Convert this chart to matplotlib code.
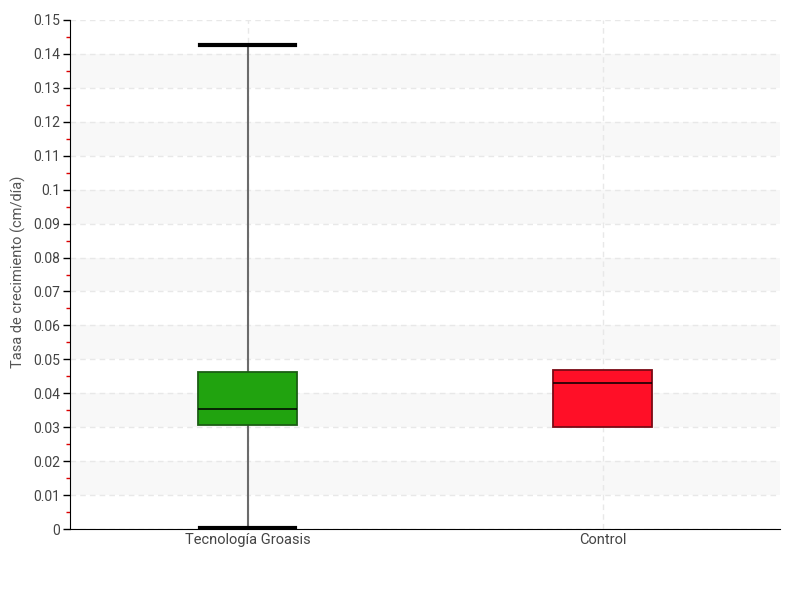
import matplotlib.pyplot as plt
from matplotlib.ticker import MultipleLocator, FuncFormatter

plt.rcParams['font.family'] = ['Roboto', 'DejaVu Sans']

# Data
groups = ["Tecnología Groasis", "Control"]
whisker_low = [0.0003, 0.0302]
q1 = [0.0307, 0.0302]
median = [0.0353, 0.0430]
q3 = [0.0462, 0.0470]
whisker_high = [0.1426, 0.0470]
fill_colors = ["#21a30f", "#ff0f27"]
edge_colors = ["#1b5e14", "#7a0a15"]

stats = []
for i, g in enumerate(groups):
    stats.append({"label": g, "whislo": whisker_low[i], "q1": q1[i], "med": median[i],
                  "q3": q3[i], "whishi": whisker_high[i], "fliers": []})

fig, ax = plt.subplots(figsize=(8, 6), dpi=100)
fig.subplots_adjust(left=0.0875, right=0.975, bottom=0.118, top=0.967)

# alternating bands
for k in range(15):
    if k % 2 == 1:
        ax.axhspan(k * 0.01, (k + 1) * 0.01, color="#f8f8f8", zorder=0, lw=0)

bp = ax.bxp(stats, positions=[0, 1], widths=0.28, patch_artist=True, showfliers=False,
            whiskerprops=dict(color="#6b6b6b", lw=1.5),
            capprops=dict(color="black", lw=3),
            medianprops=dict(color="black", lw=1.1),
            capwidths=0.27)
for i, box in enumerate(bp["boxes"]):
    box.set_facecolor(fill_colors[i])
    box.set_edgecolor(edge_colors[i])
    box.set_linewidth(1.3)
    box.set_zorder(3)
for m in bp["medians"]:
    m.set_zorder(4)
# control has no visible whiskers/caps
for art in bp["caps"][2:] + bp["whiskers"][2:]:
    art.set_visible(False)

ax.set_xlim(-0.5, 1.5)
ax.set_ylim(0, 0.15)
ax.yaxis.set_major_locator(MultipleLocator(0.01))
ax.yaxis.set_minor_locator(MultipleLocator(0.005))
ax.yaxis.set_major_formatter(FuncFormatter(lambda v, p: "%g" % round(v, 3)))
ax.grid(True, axis="both", which="major", color="#e8e8e8", ls=(0, (4, 3)), lw=1, zorder=1)
ax.set_axisbelow(True)

ax.tick_params(axis="y", which="major", length=5, width=1, color="black", labelsize=10,
               labelcolor="#444444", pad=2)
ax.tick_params(axis="y", which="minor", length=3, width=1, color="#dd0000")
ax.tick_params(axis="x", length=0, labelsize=10.5, labelcolor="#444444", pad=3)

for s in ["top", "right"]:
    ax.spines[s].set_visible(False)
ax.spines["left"].set_color("black")
ax.spines["bottom"].set_color("black")

ax.set_ylabel("Tasa de crecimiento (cm/día)", fontsize=10.5, color="#555555")
ax.yaxis.set_label_coords(-0.062, 0.505)

plt.savefig("out.png")
